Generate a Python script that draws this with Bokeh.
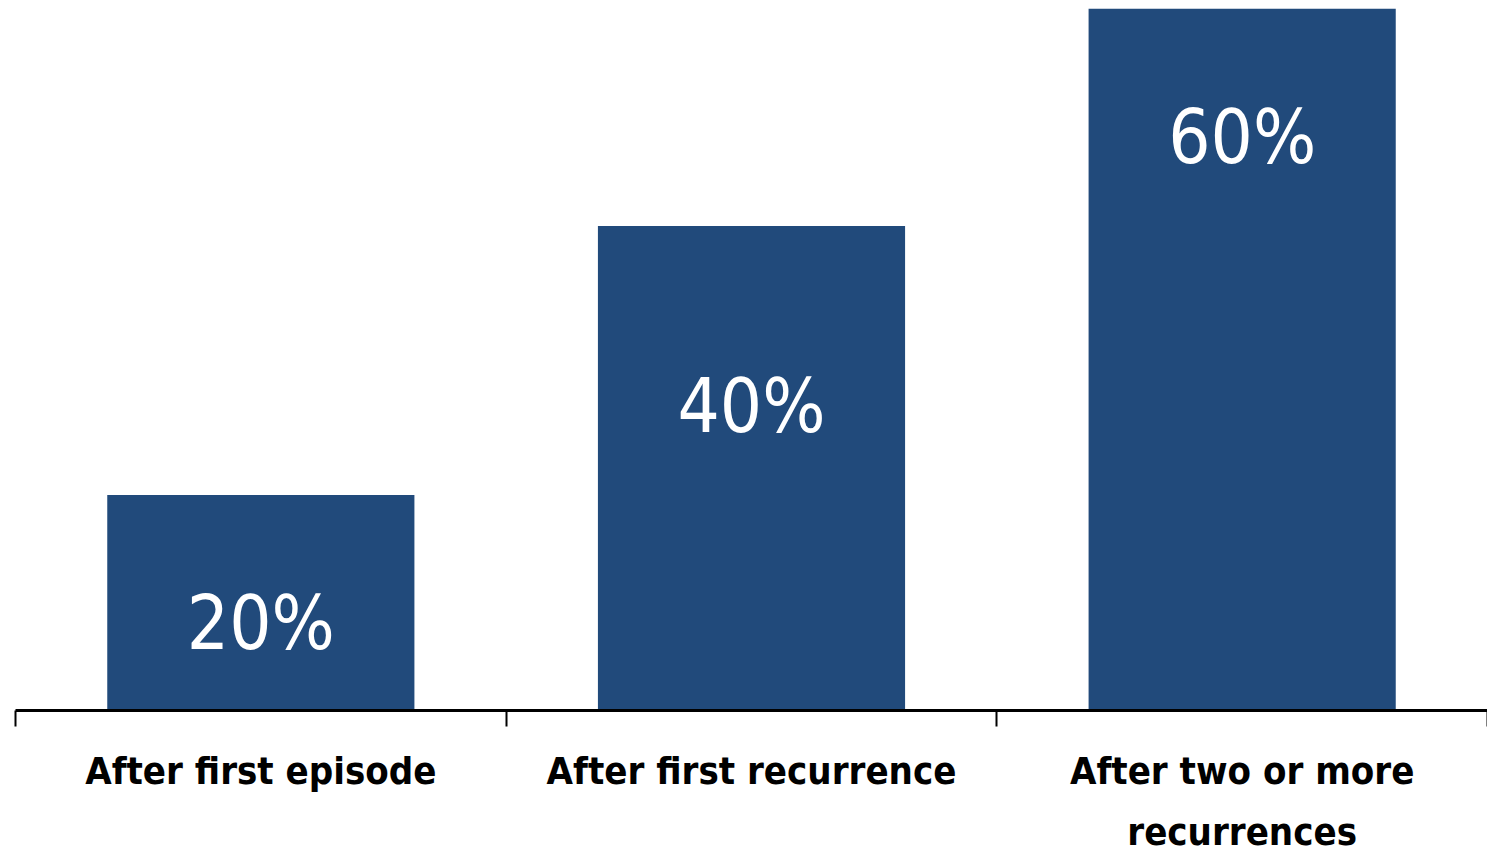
from bokeh.plotting import figure
from bokeh.models import FixedTicker, Range1d, ColumnDataSource
from bokeh.core.properties import value
from bokeh.embed import file_html
from bokeh.resources import INLINE

# Data
categories = ["After first episode", "After first recurrence", "After two or more\nrecurrences"]
values = [20, 40, 60]
value_labels = ["20%", "40%", "60%"]

# positions (styling, not data)
centers = [i + 0.5 for i in range(len(categories))]
label_y = [10.5, 26.6, 46.6]

FONT = "DejaVu Sans Condensed"

p = figure(width=1487, height=857, output_backend="svg", toolbar_location=None,
           x_range=Range1d(0, 3), y_range=Range1d(4, 56.15),
           min_border_left=15, min_border_right=0, min_border_top=8, min_border_bottom=145)
p.outline_line_color = None
p.grid.visible = False
p.yaxis.visible = False
p.background_fill_color = "white"
p.border_fill_color = "white"

src = ColumnDataSource(dict(x=centers, top=values, cat=categories))
p.vbar(x="x", top="top", bottom=0, width=0.626, source=src,
       fill_color="#214A7B", line_color=None)

p.text(x=centers, y=label_y, text=value_labels, text_color="white",
       text_font=value(FONT), text_font_size="74px",
       text_align="center", text_baseline="alphabetic")

ax = p.xaxis[0]
ax.ticker = FixedTicker(ticks=centers, minor_ticks=[0, 1, 2, 3])
ax.major_label_overrides = {c: lab for c, lab in zip(centers, categories)}
ax.major_tick_line_color = None
ax.major_tick_out = 6
ax.major_tick_in = 0
ax.minor_tick_line_color = "black"
ax.minor_tick_line_width = 2
ax.minor_tick_out = 16
ax.minor_tick_in = 0
ax.axis_line_color = "black"
ax.axis_line_width = 3
ax.major_label_text_font = FONT
ax.major_label_text_font_style = "bold"
ax.major_label_text_font_size = "38px"
ax.major_label_text_color = "black"
ax.major_label_standoff = 22
ax.major_label_text_line_height = 1.4

open("out.html", "w").write(file_html(p, INLINE))
